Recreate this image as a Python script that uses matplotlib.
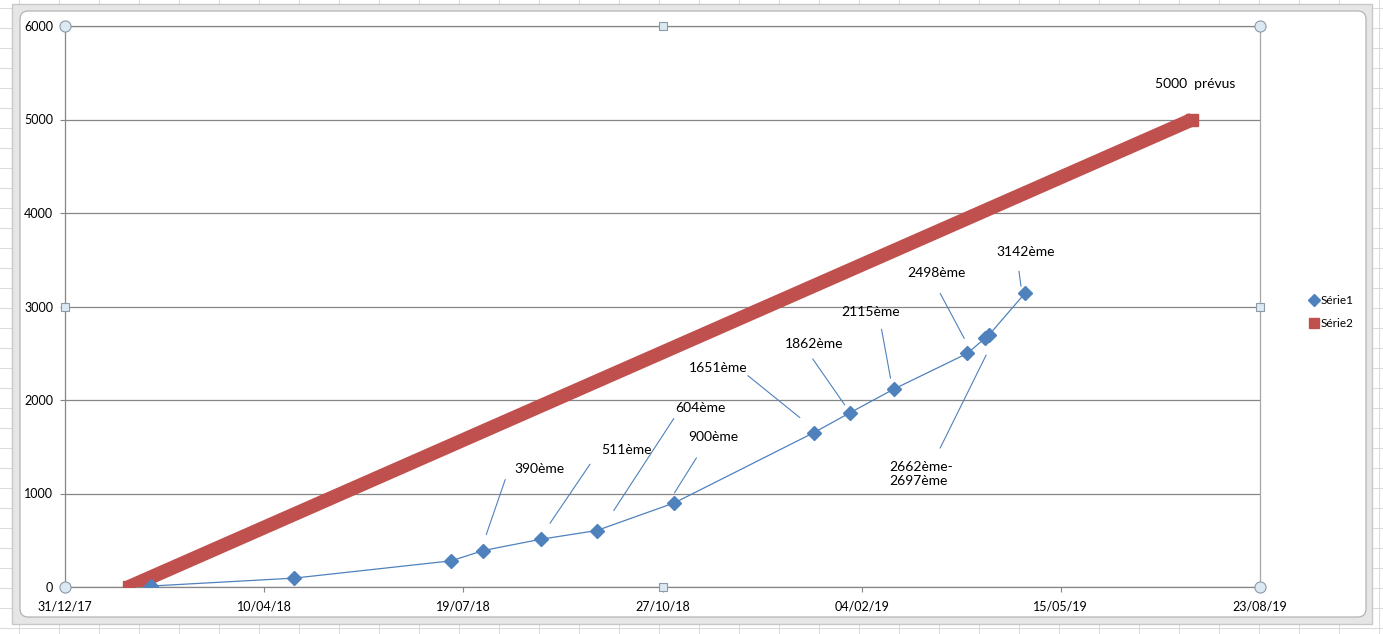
import matplotlib
matplotlib.use("Agg")
import matplotlib.pyplot as plt
import matplotlib.dates as mdates
from matplotlib.lines import Line2D
from matplotlib.patches import FancyBboxPatch, Rectangle
from matplotlib.transforms import offset_copy
import pandas as pd

# ---------------- data ----------------
serie1_dates = ["2018-02-12", "2018-04-25", "2018-07-13", "2018-07-29", "2018-08-27",
                "2018-09-24", "2018-11-02", "2019-01-11", "2019-01-29", "2019-02-20",
                "2019-03-29", "2019-04-07", "2019-04-09", "2019-04-27"]
serie1_values = [10, 95, 280, 390, 511, 604, 900, 1651, 1862, 2115, 2498, 2662, 2697, 3142]

serie2_dates = ["2018-02-01", "2019-07-20"]
serie2_values = [0, 5000]

x_tick_dates = ["2017-12-31", "2018-04-10", "2018-07-19", "2018-10-27",
                "2019-02-04", "2019-05-15", "2019-08-23"]
x_tick_labels = ["31/12/17", "10/04/18", "19/07/18", "27/10/18", "04/02/19", "15/05/19", "23/08/19"]
y_ticks = [0, 1000, 2000, 3000, 4000, 5000, 6000]

annot_labels = ["390ème", "511ème", "604ème", "900ème", "1651ème", "1862ème",
                "2115ème", "2498ème", "2662ème-\n2697ème", "3142ème"]
annot_index = [3, 4, 5, 6, 7, 8, 9, 10, 11, 13]
# offsets in pixels relative to the annotated point (x right, y down)
annot_text_off = [(56, -82), (85, -89), (104, -123), (39, -66), (-96, -65), (-36, -69),
                  (-23, -77), (-31, -80), (-96, 136), (1, -41)]
annot_lead_start = [(22, -71), (49, -75), (77, -112), (22, -45), (-66, -57), (-37, -54),
                    (-12, -60), (-27, -60), (-45, 110), (-6, -22)]
annot_lead_end = [(3, -16), (9, -16), (17, -20), (0, -10), (-14, -15), (-5, -8),
                  (-3, -11), (-3, -15), (1, 17), (-4, -7)]

# ---------------- styling ----------------
W, H = 1383, 634
BLUE = "#4F81BD"
RED = "#C0504D"
GRID = "#868686"
FONT = ["Lato", "DejaVu Sans"]
plt.rcParams["font.family"] = FONT

fig = plt.figure(figsize=(W / 100, H / 100), dpi=100)
fig.patch.set_facecolor("white")

# spreadsheet grid in background
for xc in range(19, W, 40):
    fig.add_artist(Line2D([xc / W, xc / W], [0, 1], transform=fig.transFigure,
                          color="#dadcdd", lw=0.75, zorder=0))
for yr in range(8, H, 20):
    fig.add_artist(Line2D([0, 1], [1 - yr / H, 1 - yr / H], transform=fig.transFigure,
                          color="#dadcdd", lw=0.75, zorder=0))

# chart area frame
fig.add_artist(Rectangle((12 / W, 1 - 624 / H), (1372 - 12) / W, (624 - 4) / H,
                         transform=fig.transFigure, facecolor="#e6e6e6",
                         edgecolor="#c8c8c8", lw=1, zorder=1))
fig.add_artist(FancyBboxPatch((20 / W, 1 - 617 / H), (1366 - 20) / W, (617 - 11) / H,
                              boxstyle="round,pad=0,rounding_size=0.006",
                              transform=fig.transFigure, facecolor="white",
                              edgecolor="#b4b4b4", lw=0.9, zorder=1,
                              mutation_aspect=W / H))

ax = fig.add_axes([65 / W, 1 - 587 / H, 1195 / W, 561 / H])
ax.set_facecolor("none")
ax.set_zorder(2)

d1 = pd.to_datetime(serie1_dates)
d2 = pd.to_datetime(serie2_dates)

ax.plot(d2, serie2_values, color=RED, lw=10, solid_capstyle="butt", zorder=3)
ax.plot(d2, serie2_values, ls="none", marker="s", ms=8.5, color=RED, zorder=3)
ax.plot(d1, serie1_values, color=BLUE, lw=0.9, marker="D", ms=6.8,
        markerfacecolor=BLUE, markeredgecolor=BLUE, zorder=4)

ax.set_xlim(pd.Timestamp(x_tick_dates[0]), pd.Timestamp(x_tick_dates[-1]))
ax.set_ylim(y_ticks[0], y_ticks[-1])
ax.set_xticks(pd.to_datetime(x_tick_dates))
ax.set_xticklabels(x_tick_labels)
ax.set_yticks(y_ticks)
ax.set_yticklabels([str(v) for v in y_ticks])
ax.tick_params(axis="both", length=3.5, width=0.8, color=GRID, labelsize=9, labelcolor="black")
ax.tick_params(axis="x", pad=6.5)
ax.tick_params(axis="y", pad=5)
ax.grid(axis="y", color=GRID, lw=0.9)
ax.set_axisbelow(True)
for s in ax.spines.values():
    s.set_color(GRID)
    s.set_linewidth(0.9)
ax.spines["right"].set_color("#a6a6a6")

# annotations
xnum = mdates.date2num(d1)
for lab, idx, toff, ls, le in zip(annot_labels, annot_index, annot_text_off,
                                   annot_lead_start, annot_lead_end):
    px, py = xnum[idx], serie1_values[idx]
    multi = "\n" in lab
    ax.annotate(lab, xy=(px, py), xytext=(toff[0], -toff[1]), textcoords="offset pixels",
                ha="left" if multi else "center", va="center", fontsize=10,
                linespacing=1.2, zorder=5, annotation_clip=False)
    tr_start = offset_copy(ax.transData, fig=fig, x=ls[0], y=-ls[1], units="dots")
    tr_end = offset_copy(ax.transData, fig=fig, x=le[0], y=-le[1], units="dots")
    ax.annotate("", xy=(px, py), xycoords=tr_end, xytext=(px, py), textcoords=tr_start,
                arrowprops=dict(arrowstyle="-", color=BLUE, lw=0.8, shrinkA=0, shrinkB=0),
                zorder=5, annotation_clip=False)

ax.annotate("5000  prévus", xy=(mdates.date2num(d2)[-1], serie2_values[-1]),
            xytext=(3, 36), textcoords="offset pixels", ha="center", va="center",
            fontsize=10, zorder=5)

# legend
handles = [Line2D([], [], ls="none", marker="D", ms=6.5, color=BLUE),
           Line2D([], [], ls="none", marker="s", ms=7.5, color=RED)]
ax.legend(handles, ["Série1", "Série2"], loc="center left", bbox_to_anchor=(1.033, 0.49),
          frameon=False, fontsize=8.5, handlelength=0.6, handletextpad=0.3, labelspacing=1.0)

# selection handles of the plot area
for (hx, hy) in [(0, 0), (1, 0), (0, 1), (1, 1)]:
    ax.plot(hx, hy, marker="o", ms=8, mfc="#dbe9f3", mec="#8c99a6", mew=0.8,
            transform=ax.transAxes, clip_on=False, zorder=6)
for (hx, hy) in [(0.5, 0), (0.5, 1), (0, 0.5), (1, 0.5)]:
    ax.plot(hx, hy, marker="s", ms=6, mfc="#dbe9f3", mec="#8c99a6", mew=0.8,
            transform=ax.transAxes, clip_on=False, zorder=6)

fig.savefig("out.png", dpi=100)
